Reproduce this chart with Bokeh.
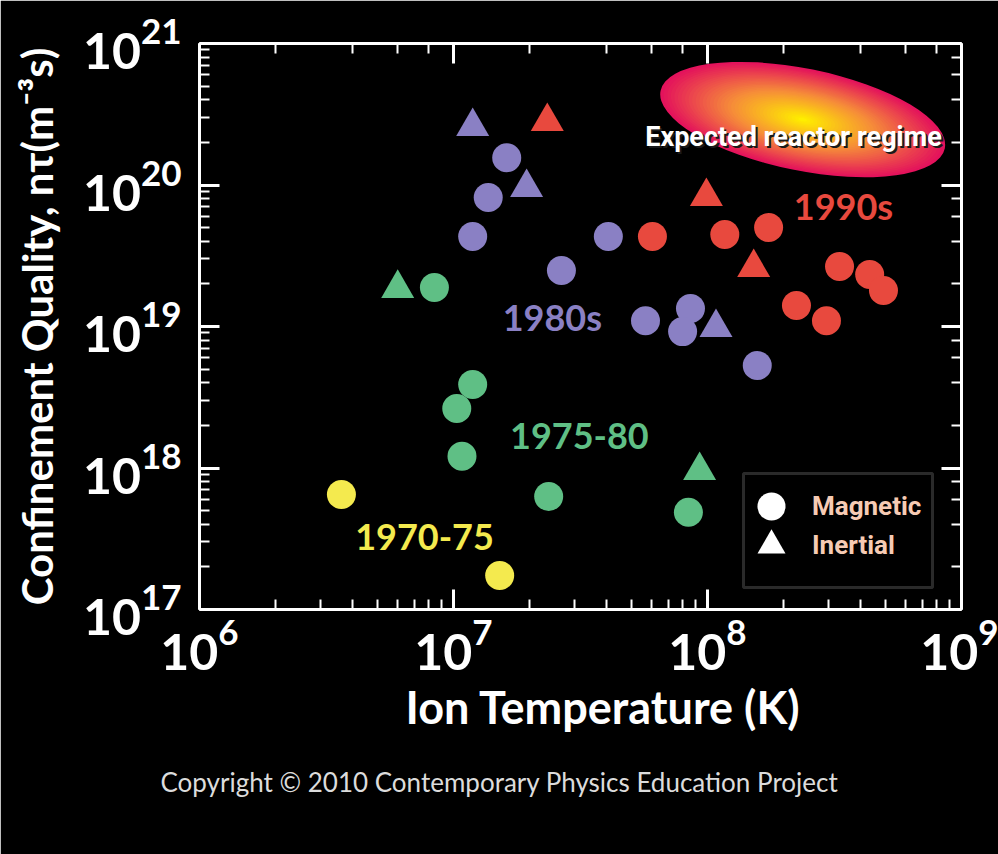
from bokeh.plotting import figure
from bokeh.models import LogAxis, Title, Legend, LegendItem, ColumnDataSource, BoxAnnotation
from bokeh.core.properties import value
from bokeh.embed import file_html
from bokeh.resources import INLINE

# ---------------- data ----------------
eras = ["1970-75", "1975-80", "1980s", "1990s"]
era_colors = ["#F4EA4E", "#5FBF85", "#8A80C4", "#E8493E"]

# Magnetic confinement (circles): ion temperature (K), n*tau (m^-3 s)
mag_T = [
    [3.62e6, 1.52e7],
    [8.41e6, 1.19e7, 1.03e7, 1.08e7, 2.37e7, 8.41e7],
    [1.62e7, 1.37e7, 1.19e7, 2.66e7, 4.07e7, 5.70e7, 8.57e7, 7.98e7, 1.57e8],
    [6.07e7, 1.17e8, 1.74e8, 3.31e8, 4.35e8, 4.93e8, 2.24e8, 2.94e8],
]
mag_nt = [
    [6.5e17, 1.74e17],
    [1.89e19, 3.89e18, 2.63e18, 1.21e18, 6.3e17, 4.86e17],
    [1.56e20, 8.17e19, 4.33e19, 2.49e19, 4.33e19, 1.10e19, 1.34e19, 9.2e18, 5.3e18],
    [4.33e19, 4.47e19, 5.01e19, 2.66e19, 2.33e19, 1.80e19, 1.41e19, 1.10e19],
]

# Inertial confinement (triangles)
inr_T = [
    [],
    [6.03e6, 9.31e7],
    [1.19e7, 1.94e7, 1.08e8],
    [2.34e7, 9.9e7, 1.52e8],
]
inr_nt = [
    [],
    [1.86e19, 9.6e17],
    [2.59e20, 9.6e19, 9.84e18],
    [2.81e20, 8.3e19, 2.61e19],
]

# era annotation anchors
era_label_T = [7.69e6, 3.13e7, 2.45e7, 3.43e8]
era_label_nt = [3.23e17, 1.67e18, 1.16e19, 7.16e19]

regime_label = "Expected reactor regime"
regime_T = 2.37e8
regime_nt = 2.9e20
regime_text_T = 2.18e8
regime_text_nt = 2.2e20

legend_labels = ["Magnetic", "Inertial"]
x_title = "Ion Temperature (K)"
y_title = "Confinement Quality, nτ(m⁻³s)"
copyright_text = "Copyright © 2010 Contemporary Physics Education Project"

# ---------------- figure ----------------
BOLD_FONT = "Lato"
NARROW_FONT = "Roboto"

p = figure(width=998, height=854, x_axis_type="log", y_axis_type="log",
           x_range=(1e6, 1e9), y_range=(1e17, 1e21),
           output_backend="svg", toolbar_location=None,
           background_fill_color="black", border_fill_color="black",
           min_border_left=199, min_border_right=37,
           min_border_top=43, min_border_bottom=245)
p.outline_line_color = None
p.grid.visible = False

bottom_axis = p.below[0]
left_axis = p.left[0]
top_axis = LogAxis()
right_axis = LogAxis()
p.add_layout(top_axis, "above")
p.add_layout(right_axis, "right")

for ax in [bottom_axis, left_axis, top_axis, right_axis]:
    ax.axis_line_color = "white"
    ax.axis_line_width = 3
    ax.major_tick_line_color = "white"
    ax.major_tick_line_width = 3
    ax.minor_tick_line_color = "white"
    ax.minor_tick_line_width = 2
    ax.major_tick_in = 20
    ax.major_tick_out = 0
    ax.minor_tick_in = 10
    ax.minor_tick_out = 0
    ax.major_label_text_color = "white"
    ax.major_label_text_font = BOLD_FONT
    ax.major_label_text_font_style = "bold"
    ax.major_label_text_font_size = "50px"
    ax.axis_label_text_color = "white"
    ax.axis_label_text_font = BOLD_FONT
    ax.axis_label_text_font_style = "bold"

for ax in [top_axis, right_axis]:
    ax.major_label_text_font_size = "2px"
    ax.major_label_text_color = None
    ax.major_label_standoff = 0

bottom_axis.major_label_standoff = 9
left_axis.axis_label = y_title
left_axis.axis_label_text_font_size = "42px"
left_axis.major_label_standoff = 18
left_axis.axis_label_standoff = 18

# x-axis title (as a title so it can sit where the reference puts it)
p.add_layout(Title(text=x_title, align="left", offset=206, standoff=10,
                   text_color="white", text_font=BOLD_FONT, text_font_style="bold",
                   text_font_size="45px"), "below")

# ---- reactor regime ellipse (layered to mimic a radial gradient) ----
edge = (228, 18, 92)
mid = (246, 140, 58)
core = (255, 238, 0)
n_layers = 40
for i in range(n_layers):
    t = i / (n_layers - 1)
    if t < 0.5:
        u = t / 0.5
        c = tuple(int(edge[k] + (mid[k] - edge[k]) * u) for k in range(3))
    else:
        u = (t - 0.5) / 0.5
        c = tuple(int(mid[k] + (core[k] - mid[k]) * u) for k in range(3))
    s = 1.0 - 0.97 * t
    p.ellipse(x=[regime_T], y=[regime_nt], width=290 * s, height=102 * s,
              width_units="screen", height_units="screen", angle=-0.2,
              fill_color="#%02x%02x%02x" % c, line_color=None)

p.text(x=[regime_text_T], y=[regime_text_nt], text=[regime_label],
       x_offset=2, y_offset=2, text_color="#1a1a1a",
       text_font=value(NARROW_FONT), text_font_style="bold", text_font_size="27px",
       text_align="center", text_baseline="middle")
p.text(x=[regime_text_T], y=[regime_text_nt], text=[regime_label],
       text_color="white",
       text_font=value(NARROW_FONT), text_font_style="bold", text_font_size="27px",
       text_align="center", text_baseline="middle")

# ---- data markers ----
for i, era in enumerate(eras):
    p.scatter(x=mag_T[i], y=mag_nt[i], marker="circle", size=29,
              fill_color=era_colors[i], line_color=None)
    if inr_T[i]:
        p.scatter(x=inr_T[i], y=inr_nt[i], marker="triangle", size=33,
                  fill_color=era_colors[i], line_color=None)

era_src = ColumnDataSource(dict(x=era_label_T, y=era_label_nt, text=eras, color=era_colors))
p.text(x="x", y="y", text="text", text_color="color", source=era_src,
       text_font=value(BOLD_FONT), text_font_style="bold", text_font_size="36px",
       text_align="center", text_baseline="middle")

# ---- legend: framed box + one key entry per confinement type ----
p.add_layout(BoxAnnotation(left=544, right=733, bottom=22, top=136,
                           left_units="screen", right_units="screen",
                           bottom_units="screen", top_units="screen",
                           fill_color="black", fill_alpha=1.0,
                           line_color="#8C8C8C", line_width=3, level="annotation"))

nan = float("nan")
key_markers = ["circle", "triangle"]
key_locations = [(537, 68), (537, 29)]
for lab, mk, loc in zip(legend_labels, key_markers, key_locations):
    r = p.scatter(x=[nan], y=[nan], marker=mk, fill_color="white", line_color=None)
    p.add_layout(Legend(items=[LegendItem(label=lab, renderers=[r])],
                        location=loc, glyph_width=70, glyph_height=70,
                        padding=0, margin=0, label_standoff=6,
                        background_fill_alpha=0.0, border_line_color=None,
                        label_text_color="#F6CBB4", label_text_font=NARROW_FONT,
                        label_text_font_style="bold", label_text_font_size="26px"))

# invisible spacer between the axis title and the copyright line
p.add_layout(Title(text=".", standoff=0, text_font="Lato", text_font_size="26px",
                   text_color=None), "below")

p.add_layout(Title(text=copyright_text, align="left", offset=-39, standoff=50,
                   text_color="#DCDCDC", text_font="Lato", text_font_style="normal",
                   text_font_size="26px"), "below")

open("out.html", "w").write(file_html(p, INLINE))
